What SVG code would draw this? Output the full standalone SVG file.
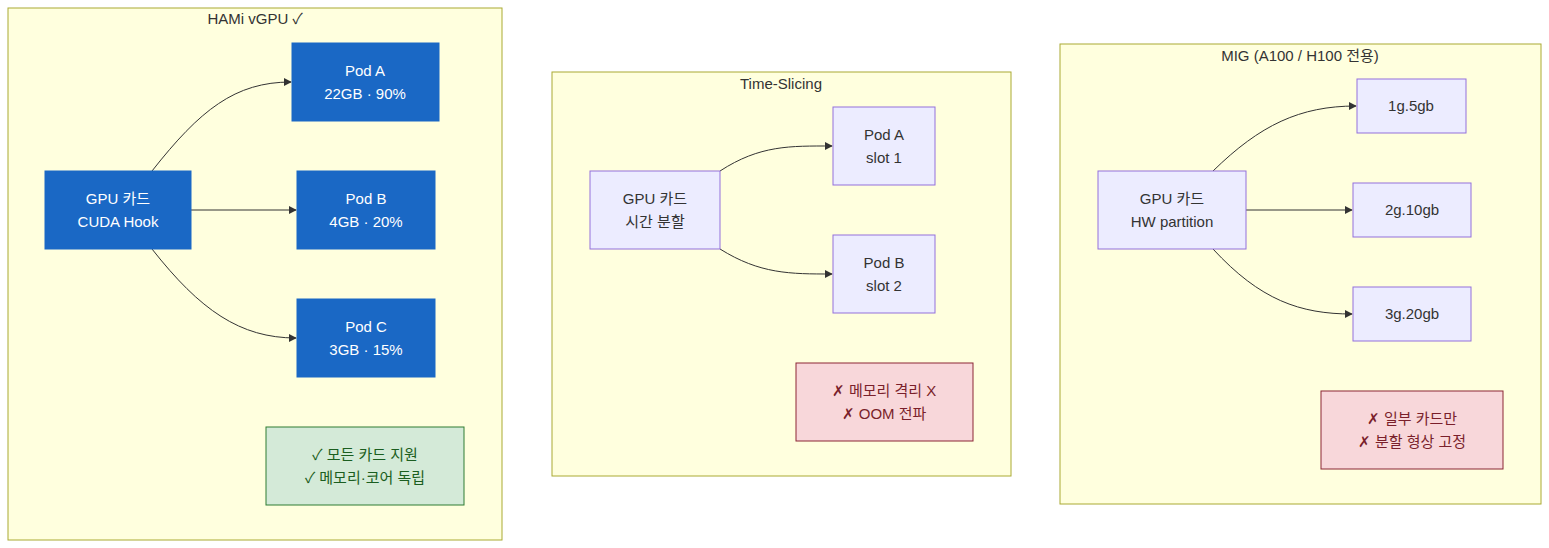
<svg xmlns="http://www.w3.org/2000/svg" width="1549" height="548" viewBox="0 0 1549 548">
<style>
text{font-family:"Liberation Sans","Noto Sans CJK KR",sans-serif;font-size:15px;text-anchor:middle;fill:#333}
.cl{fill:#ffffde;stroke:#aaaa33;stroke-width:1}
.blue{fill:#1a68c5;stroke:#1a68c5}
.blue+text,.w{fill:#fff}
.std{fill:#ececff;stroke:#9370db;stroke-width:1}
.ok{fill:#d4ead8;stroke:#2e7d32;stroke-width:1}
.bad{fill:#f8d7da;stroke:#8b2635;stroke-width:1}
.g{fill:#1b5e20}.r{fill:#7a1f2b}
.e{fill:none;stroke:#333;stroke-width:1;marker-end:url(#a)}
</style>
<defs><marker id="a" viewBox="0 0 10 10" refX="9" refY="5" markerWidth="8" markerHeight="8" orient="auto"><path d="M0,0L10,5L0,10z" fill="#333"/></marker></defs>
<rect class="cl" x="8" y="8" width="494" height="532"/><text x="255" y="24">HAMi vGPU ✓</text>
<rect class="cl" x="552" y="72" width="459" height="404"/><text x="781" y="89">Time-Slicing</text>
<rect class="cl" x="1060" y="44" width="481" height="460"/><text x="1300" y="61">MIG (A100 / H100 전용)</text>
<g id="connectors">
<path class="e" d="M152,171C200,110 235,82 291,82"/>
<path class="e" d="M191,210H296"/>
<path class="e" d="M152,249C200,310 240,338 296,338"/>
<path class="e" d="M720,171C760,145 790,146 832,146"/>
<path class="e" d="M720,249C760,274 790,274 832,274"/>
<path class="e" d="M1213,171C1260,125 1300,106 1356,106"/>
<path class="e" d="M1246,210H1352"/>
<path class="e" d="M1213,249C1260,300 1300,314 1352,314"/>
</g>
<g id="hgpu"><rect class="blue" x="45" y="171" width="146" height="78"/><text class="w" x="118" y="204">GPU 카드</text><text class="w" x="118" y="227">CUDA Hook</text></g>
<g id="hpa"><rect class="blue" x="292" y="43" width="147" height="78"/><text class="w" x="365" y="76">Pod A</text><text class="w" x="365" y="99">22GB · 90%</text></g>
<g id="hpb"><rect class="blue" x="297" y="171" width="138" height="78"/><text class="w" x="366" y="204">Pod B</text><text class="w" x="366" y="227">4GB · 20%</text></g>
<g id="hpc"><rect class="blue" x="297" y="299" width="138" height="78"/><text class="w" x="366" y="332">Pod C</text><text class="w" x="366" y="355">3GB · 15%</text></g>
<g id="hok"><rect class="ok" x="266" y="427" width="198" height="78"/><text class="g" x="365" y="460">✓ 모든 카드 지원</text><text class="g" x="365" y="483">✓ 메모리·코어 독립</text></g>
<g id="tgpu"><rect class="std" x="590" y="171" width="130" height="78"/><text x="655" y="204">GPU 카드</text><text x="655" y="227">시간 분할</text></g>
<g id="tpa"><rect class="std" x="833" y="107" width="102" height="78"/><text x="884" y="140">Pod A</text><text x="884" y="163">slot 1</text></g>
<g id="tpb"><rect class="std" x="833" y="235" width="102" height="78"/><text x="884" y="268">Pod B</text><text x="884" y="291">slot 2</text></g>
<g id="tbad"><rect class="bad" x="796" y="363" width="177" height="78"/><text class="r" x="884" y="396">✗ 메모리 격리 X</text><text class="r" x="884" y="419">✗ OOM 전파</text></g>
<g id="mgpu"><rect class="std" x="1098" y="171" width="148" height="78"/><text x="1172" y="204">GPU 카드</text><text x="1172" y="227">HW partition</text></g>
<g id="m1"><rect class="std" x="1357" y="79" width="109" height="54"/><text x="1411" y="111">1g.5gb</text></g>
<g id="m2"><rect class="std" x="1353" y="183" width="118" height="54"/><text x="1412" y="215">2g.10gb</text></g>
<g id="m3"><rect class="std" x="1353" y="287" width="118" height="54"/><text x="1412" y="319">3g.20gb</text></g>
<g id="mbad"><rect class="bad" x="1321" y="391" width="182" height="78"/><text class="r" x="1412" y="424">✗ 일부 카드만</text><text class="r" x="1412" y="447">✗ 분할 형상 고정</text></g>
</svg>
